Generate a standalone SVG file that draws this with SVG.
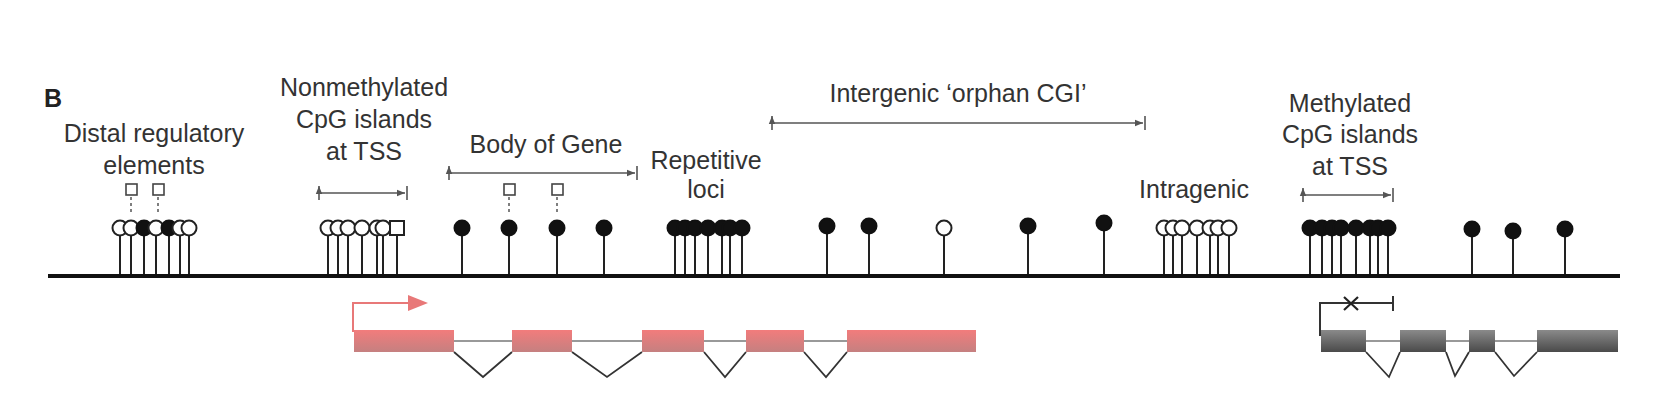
<svg xmlns="http://www.w3.org/2000/svg" width="1680" height="420" viewBox="0 0 1680 420">
<style>
text{font-family:"Liberation Sans",Arial,sans-serif;font-size:25px;fill:#333;text-anchor:middle}
.st{stroke:#222;stroke-width:2}
.o{fill:#fff;stroke:#222;stroke-width:2}
.f{fill:#111;stroke:#111;stroke-width:2}
.br{stroke:#555;stroke-width:1.6;fill:none}
.sq{fill:#fff;stroke:#444;stroke-width:1.6}
.dash{stroke:#555;stroke-width:1.5;stroke-dasharray:3 3}
.gl{stroke:#333;stroke-width:1.8;fill:none}
</style>
<defs>
<marker id="ah" viewBox="0 0 10 10" refX="10" refY="5" markerWidth="9" markerHeight="8" orient="auto-start-reverse" markerUnits="userSpaceOnUse"><path d="M0,1 L10,5 L0,9 z" fill="#555"/></marker>
<linearGradient id="pk" x1="0" y1="0" x2="0" y2="1"><stop offset="0" stop-color="#f27c7c"/><stop offset="1" stop-color="#c58080"/></linearGradient>
<linearGradient id="gy" x1="0" y1="0" x2="0" y2="1"><stop offset="0" stop-color="#8a8a8a"/><stop offset="1" stop-color="#4a4a4a"/></linearGradient>
</defs>
<text x="53" y="107" style="font-weight:bold;font-size:25px;fill:#222">B</text>
<g id="labels">
<text x="154" y="142">Distal regulatory</text><text x="154" y="174">elements</text>
<text x="364" y="96">Nonmethylated</text><text x="364" y="128">CpG islands</text><text x="364" y="160">at TSS</text>
<text x="546" y="153">Body of Gene</text>
<text x="706" y="169">Repetitive</text><text x="706" y="198">loci</text>
<text x="958" y="102">Intergenic ‘orphan CGI’</text>
<text x="1194" y="198">Intragenic</text>
<text x="1350" y="112">Methylated</text><text x="1350" y="143">CpG islands</text><text x="1350" y="175">at TSS</text>
</g>
<g id="connectors">
<path class="br" d="M319,186v14M407,186v14M321,193H405" marker-start="url(#ah)" marker-end="url(#ah)"/>
<path class="br" d="M449,166v14M637,166v14M451,173H635" marker-start="url(#ah)" marker-end="url(#ah)"/>
<path class="br" d="M772,116v14M1145,116v14M774,123H1143" marker-start="url(#ah)" marker-end="url(#ah)"/>
<path class="br" d="M1303,188v14M1393,188v14M1305,195H1391" marker-start="url(#ah)" marker-end="url(#ah)"/>
<line class="dash" x1="131" y1="197" x2="131" y2="214"/><line class="dash" x1="158" y1="197" x2="158" y2="214"/>
<line class="dash" x1="509" y1="197" x2="509" y2="214"/><line class="dash" x1="557" y1="197" x2="557" y2="214"/>
</g>
<g id="squares">
<rect class="sq" x="126" y="184" width="11" height="11"/><rect class="sq" x="153" y="184" width="11" height="11"/>
<rect class="sq" x="504" y="184" width="11" height="11"/><rect class="sq" x="552" y="184" width="11" height="11"/>
</g>
<g id="stems">
<path class="st" d="M120,228V276M131,228V276M144,228V276M156,228V276M169,228V276M180,228V276M189,228V276
M328,228V276M338,228V276M348,228V276M362,228V276M377,228V276M383,228V276M397,228V276
M462,228V276M509,228V276M557,228V276M604,228V276
M675,228V276M685,228V276M695,228V276M708,228V276M722,228V276M730,228V276M742,228V276
M827,228V276M869,228V276M944,228V276M1028,228V276M1104,228V276
M1164,228V276M1173,228V276M1182,228V276M1197,228V276M1210,228V276M1218,228V276M1229,228V276
M1310,228V276M1322,228V276M1332,228V276M1341,228V276M1356,228V276M1370,228V276M1378,228V276M1388,228V276
M1472,228V276M1513,230V276M1565,228V276"/>
</g>
<g id="heads">
<circle class="o" cx="120" cy="228" r="7.5"/><circle class="o" cx="131" cy="228" r="7.5"/><circle class="f" cx="144" cy="228" r="7.5"/><circle class="o" cx="156" cy="228" r="7.5"/><circle class="f" cx="169" cy="228" r="7.5"/><circle class="o" cx="180" cy="228" r="7.5"/><circle class="o" cx="189" cy="228" r="7.5"/>
<circle class="o" cx="328" cy="228" r="7.5"/><circle class="o" cx="338" cy="228" r="7.5"/><circle class="o" cx="348" cy="228" r="7.5"/><circle class="o" cx="362" cy="228" r="7.5"/><circle class="o" cx="377" cy="228" r="7.5"/><circle class="o" cx="383" cy="228" r="7.5"/><rect class="o" x="390" y="221" width="14" height="14"/>
<circle class="f" cx="462" cy="228" r="7.5"/><circle class="f" cx="509" cy="228" r="7.5"/><circle class="f" cx="557" cy="228" r="7.5"/><circle class="f" cx="604" cy="228" r="7.5"/>
<circle class="f" cx="675" cy="228" r="7.5"/><circle class="f" cx="685" cy="228" r="7.5"/><circle class="f" cx="695" cy="228" r="7.5"/><circle class="f" cx="708" cy="228" r="7.5"/><circle class="f" cx="722" cy="228" r="7.5"/><circle class="f" cx="730" cy="228" r="7.5"/><circle class="f" cx="742" cy="228" r="7.5"/>
<circle class="f" cx="827" cy="226" r="7.5"/><circle class="f" cx="869" cy="226" r="7.5"/><circle class="o" cx="944" cy="228" r="7.5"/><circle class="f" cx="1028" cy="226" r="7.5"/><circle class="f" cx="1104" cy="223" r="7.5"/>
<circle class="o" cx="1164" cy="228" r="7.5"/><circle class="o" cx="1173" cy="228" r="7.5"/><circle class="o" cx="1182" cy="228" r="7.5"/><circle class="o" cx="1197" cy="228" r="7.5"/><circle class="o" cx="1210" cy="228" r="7.5"/><circle class="o" cx="1218" cy="228" r="7.5"/><circle class="o" cx="1229" cy="228" r="7.5"/>
<circle class="f" cx="1310" cy="228" r="7.5"/><circle class="f" cx="1322" cy="228" r="7.5"/><circle class="f" cx="1332" cy="228" r="7.5"/><circle class="f" cx="1341" cy="228" r="7.5"/><circle class="f" cx="1356" cy="228" r="7.5"/><circle class="f" cx="1370" cy="228" r="7.5"/><circle class="f" cx="1378" cy="228" r="7.5"/><circle class="f" cx="1388" cy="228" r="7.5"/>
<circle class="f" cx="1472" cy="229" r="7.5"/><circle class="f" cx="1513" cy="231" r="7.5"/><circle class="f" cx="1565" cy="229" r="7.5"/>
</g>
<line id="chromosome" x1="48" y1="276" x2="1620" y2="276" stroke="#111" stroke-width="4"/>
<g id="gene-pink">
<path d="M353,332V303H408" stroke="#e87878" stroke-width="2" fill="none"/>
<path d="M408,295L428,303L408,311z" fill="#e87878"/>
<line x1="354" y1="341" x2="976" y2="341" stroke="#777" stroke-width="1.5"/>
<path class="gl" d="M454,352L483,377L512,352M572,352L607,377L642,352M704,352L725,377L746,352M804,352L826,377L847,352"/>
<rect x="354" y="330" width="100" height="22" fill="url(#pk)"/>
<rect x="512" y="330" width="60" height="22" fill="url(#pk)"/>
<rect x="642" y="330" width="62" height="22" fill="url(#pk)"/>
<rect x="746" y="330" width="58" height="22" fill="url(#pk)"/>
<rect x="847" y="330" width="129" height="22" fill="url(#pk)"/>
</g>
<g id="gene-gray">
<path d="M1320,336V303H1393M1393,296V311" stroke="#333" stroke-width="2" fill="none"/>
<path d="M1344,297L1358,310M1358,297L1344,310" stroke="#222" stroke-width="2.2"/>
<line x1="1321" y1="341" x2="1618" y2="341" stroke="#777" stroke-width="1.5"/>
<path class="gl" d="M1366,352L1389,377L1400,352M1446,352L1455,376L1469,352M1495,352L1514,376L1537,352"/>
<rect x="1321" y="330" width="45" height="22" fill="url(#gy)"/>
<rect x="1400" y="330" width="46" height="22" fill="url(#gy)"/>
<rect x="1469" y="330" width="26" height="22" fill="url(#gy)"/>
<rect x="1537" y="330" width="81" height="22" fill="url(#gy)"/>
</g>
</svg>
